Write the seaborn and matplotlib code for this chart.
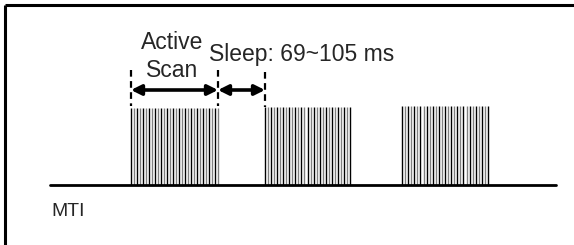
import numpy as np
import pandas as pd
import matplotlib
matplotlib.use("Agg")
import matplotlib.pyplot as plt
import seaborn as sns

# ---- data (pixel-like timeline units) ----
block_starts = [131, 265, 402]
block_ends = [218, 350, 488]
block_tops = [108, 107, 106]
pulses_per_block = [30, 29, 29]
pulse_colors = ["#000000", "#808080"]
baseline_y = 185
baseline_x = [50, 556]
marker_x = [131, 218, 265]
arrow_y = 90
labels = {"active": "Active\nScan", "sleep": "Sleep: 69~105 ms", "mti": "MTI"}

sns.set_theme(style="white")
plt.rcParams['font.family'] = ['Liberation Sans', 'DejaVu Sans']

fig = plt.figure(figsize=(5.74, 2.45), dpi=100)
ax = fig.add_axes([0, 0, 1, 1])

# frame (top and left visible)
ax.plot([4.5, 574], [5, 5], color="black", lw=2.2, solid_capstyle="butt")
ax.plot([4.5, 4.5], [5, 245], color="black", lw=2.2, solid_capstyle="butt")

# pulses
for s, e, t, n in zip(block_starts, block_ends, block_tops, pulses_per_block):
    xs = np.linspace(s, e, n)
    cols = [pulse_colors[i % 2] for i in range(n)]
    ax.vlines(xs, t, baseline_y, colors=cols, lw=1.0)

# baseline
base_df = pd.DataFrame({"x": baseline_x, "y": [baseline_y, baseline_y]})
sns.lineplot(data=base_df, x="x", y="y", ax=ax, color="black", lw=2.0)
ax.set_xlim(0, 574)
ax.set_ylim(245, 0)
ax.axis("off")

# dashed markers
ax.vlines(marker_x, [70, 70, 72], [106, 106, 107], colors="black",
          lw=1.6, linestyles=(0, (3, 2)))

# arrows
for a, b in [(marker_x[0], marker_x[1]), (marker_x[1], marker_x[2])]:
    ax.annotate("", xy=(b, arrow_y), xytext=(a, arrow_y),
                arrowprops=dict(arrowstyle="<|-|>", color="black", lw=2.6,
                                shrinkA=0, shrinkB=0, mutation_scale=15))

ax.text(172, 49, "Active", fontsize=16.5, ha="center", va="baseline")
ax.text(172, 77, "Scan", fontsize=16.5, ha="center", va="baseline")
ax.text(209, 61, labels["sleep"], fontsize=16.5, ha="left", va="baseline")
ax.text(51, 216, labels["mti"], fontsize=14, ha="left", va="baseline")

fig.savefig("out.png", dpi=100)
